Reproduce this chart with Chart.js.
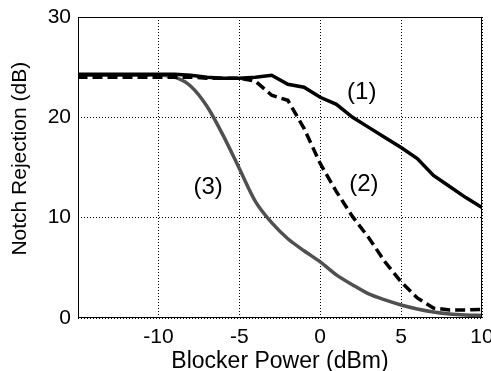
<!DOCTYPE html>
<html>
<head>
<meta charset="utf-8">
<script src="https://cdn.jsdelivr.net/npm/chart.js@4"></script>
<style>
    html, body { margin: 0; padding: 0; background: #ffffff; }
    #wrap { width: 491px; height: 371px; }
</style>
</head>
<body>
<div id="wrap"><canvas id="notchChart" width="491" height="371"></canvas></div>
<script>
        // ===== 数据 =====
        const blockerPower = [-15, -14, -13, -12, -11, -10, -9, -8, -7, -6, -5, -4, -3, -2, -1, 0, 1, 2, 3, 4, 5, 6, 7, 8, 9, 10];
        const curve1 = [24.3, 24.3, 24.3, 24.3, 24.3, 24.3, 24.3, 24.2, 24.0, 23.9, 23.9, 24.0, 24.2, 23.3, 23.0, 22.0, 21.3, 20.0, 19.0, 18.0, 17.0, 15.9, 14.2, 13.1, 12.0, 11.0];
        const curve2 = [24.0, 24.0, 24.0, 24.0, 24.0, 24.0, 24.0, 24.0, 23.9, 23.9, 23.9, 23.6, 22.2, 21.7, 18.9, 15.4, 12.6, 10.1, 8.0, 5.6, 3.6, 2.0, 1.0, 0.8, 0.8, 0.85];
        const curve3 = [24.2, 24.2, 24.2, 24.2, 24.2, 24.2, 24.0, 23.1, 21.1, 18.2, 14.9, 11.6, 9.5, 7.9, 6.7, 5.6, 4.3, 3.3, 2.4, 1.8, 1.3, 0.9, 0.6, 0.4, 0.3, 0.25];

        const xTicks = [-10, -5, 0, 5, 10];
        const yTicks = [0, 10, 20, 30];

        // 曲线标注
        const labelText = ["(1)", "(2)", "(3)"];
        const labelX = [2.57, 2.7, -6.93];
        const labelY = [22.5, 13.3, 13.0];

        const toPoints = ys => blockerPower.map((x, i) => ({ x: x, y: ys[i] }));
        const FONT = "'Liberation Sans', Arial, Helvetica, sans-serif";

        // ===== 边框 + 标注 =====
        const boxAndLabels = {
            id: "boxAndLabels",
            afterDatasetsDraw(chart) {
                const { ctx, chartArea: a, scales } = chart;
                ctx.save();
                ctx.strokeStyle = "#000000";
                ctx.lineWidth = 1;
                ctx.strokeRect(a.left + 0.5, a.top + 0.5, a.right - a.left - 1, a.bottom - a.top - 1);

                ctx.fillStyle = "#000000";
                ctx.font = "24px " + FONT;
                ctx.textAlign = "center";
                ctx.textBaseline = "middle";
                labelText.forEach((t, i) => {
                    ctx.fillText(t, scales.x.getPixelForValue(labelX[i]), scales.y.getPixelForValue(labelY[i]));
                });
                ctx.restore();
            }
        };

        const ctx = document.getElementById("notchChart").getContext("2d");
        const notchChart = new Chart(ctx, {
            type: "line",
            data: {
                datasets: [
                    {
                        label: "(2)",
                        data: toPoints(curve2),
                        borderColor: "#000000",
                        borderWidth: 3.5,
                        borderDash: [10, 5],
                        pointRadius: 0,
                        fill: false,
                        tension: 0
                    },
                    {
                        label: "(1)",
                        data: toPoints(curve1),
                        borderColor: "#000000",
                        borderWidth: 3.5,
                        pointRadius: 0,
                        fill: false,
                        tension: 0
                    },
                    {
                        label: "(3)",
                        data: toPoints(curve3),
                        borderColor: "#505050",
                        borderWidth: 3.5,
                        pointRadius: 0,
                        fill: false,
                        tension: 0.3
                    }
                ]
            },
            options: {
                responsive: false,
                animation: false,
                devicePixelRatio: 1,
                layout: { padding: { left: 0, right: 9, top: 17, bottom: 0 } },
                plugins: {
                    legend: { display: false },
                    tooltip: { enabled: false }
                },
                scales: {
                    x: {
                        type: "linear",
                        min: -14.97,
                        max: 10,
                        afterBuildTicks(scale) { scale.ticks = xTicks.map(v => ({ value: v })); },
                        afterFit(scale) {
                            scale.height = 53;
                            scale.paddingLeft = 0;
                            scale.paddingRight = 0;
                        },
                        ticks: {
                            color: "#000000",
                            font: { family: FONT, size: 21 },
                            padding: 7,
                            maxRotation: 0,
                            callback: v => String(v)
                        },
                        grid: { color: "#000000", lineWidth: 1, drawTicks: false },
                        border: { display: false, dash: [1, 2] },
                        title: {
                            display: true,
                            text: "Blocker Power (dBm)",
                            color: "#000000",
                            font: { family: FONT, size: 23, lineHeight: 1 },
                            padding: { top: 0, bottom: -2 }
                        }
                    },
                    y: {
                        min: 0,
                        max: 30,
                        afterBuildTicks(scale) { scale.ticks = yTicks.map(v => ({ value: v })); },
                        afterFit(scale) {
                            scale.width = 78;
                            scale.paddingTop = 0;
                            scale.paddingBottom = 0;
                        },
                        ticks: {
                            color: "#000000",
                            font: { family: FONT, size: 21 },
                            padding: 7,
                            callback: v => String(v)
                        },
                        grid: { color: "#000000", lineWidth: 1, drawTicks: false },
                        border: { display: false, dash: [1, 2] },
                        title: {
                            display: true,
                            text: "   Notch Rejection (dB)",
                            color: "#000000",
                            font: { family: FONT, size: 21, lineHeight: 1.2 },
                            padding: { top: 8, bottom: 0 }
                        }
                    }
                }
            },
            plugins: [boxAndLabels]
        });
</script>
</body>
</html>
